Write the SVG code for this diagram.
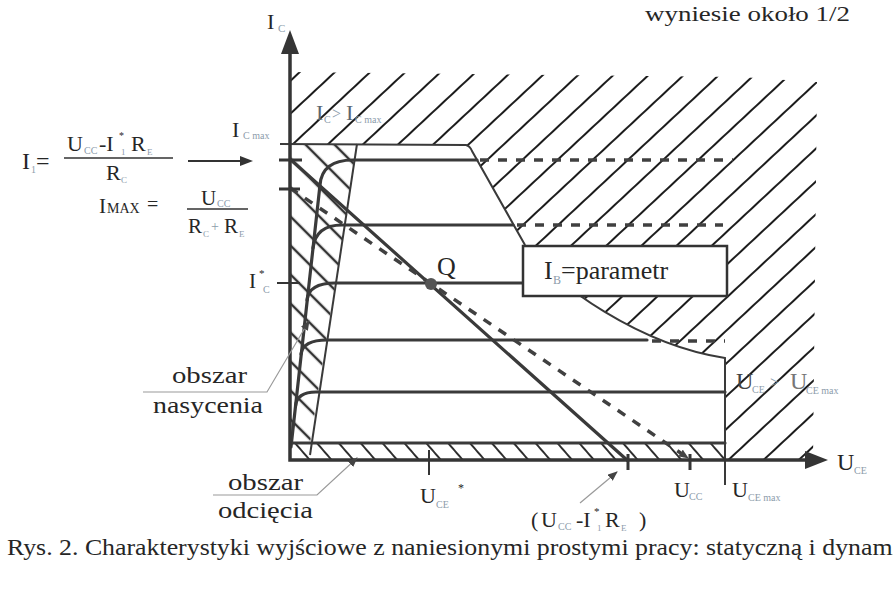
<svg xmlns="http://www.w3.org/2000/svg" width="893" height="603" viewBox="0 0 893 603">
<style>
.t{font-family:"Liberation Serif","Times New Roman",serif;fill:#262626}
.f{fill:#8c9cab}
.ax{stroke:#353535;stroke-width:3.5;fill:none}
.ch{stroke:#3a3a3a;stroke-width:3.2;fill:none;stroke-linecap:round}
.th{stroke:#3a3a3a;stroke-width:2;fill:none}
.ds{stroke:#404040;stroke-width:3.5;fill:none;stroke-dasharray:9 9}
.ld{stroke:#9a9a9a;stroke-width:1.2;fill:none}
</style>
<defs>
<pattern id="hTop" patternUnits="userSpaceOnUse" width="40" height="24" patternTransform="translate(817 82) rotate(-43)">
<line x1="0" y1="0" x2="40" y2="0" stroke="#1c1c1c" stroke-width="1.8"/>
<line x1="0" y1="24" x2="40" y2="24" stroke="#1c1c1c" stroke-width="1.8"/>
</pattern>
<pattern id="hSat" patternUnits="userSpaceOnUse" width="40" height="20.5" patternTransform="translate(290 245) rotate(45)">
<line x1="0" y1="0" x2="40" y2="0" stroke="#2e2e2e" stroke-width="2.2"/>
<line x1="0" y1="20.5" x2="40" y2="20.5" stroke="#2e2e2e" stroke-width="2.2"/>
</pattern>
<pattern id="hCut" patternUnits="userSpaceOnUse" width="40" height="16.5" patternTransform="translate(295 443) rotate(49)">
<line x1="0" y1="0" x2="40" y2="0" stroke="#2e2e2e" stroke-width="2"/>
<line x1="0" y1="16.5" x2="40" y2="16.5" stroke="#2e2e2e" stroke-width="2"/>
</pattern>
<marker id="arr" markerUnits="userSpaceOnUse" markerWidth="10" markerHeight="8" refX="9" refY="4" orient="auto">
<path d="M0,0 L10,4 L0,8 Z" fill="#444"/>
</marker>
</defs>
<rect width="893" height="603" fill="#fff"/>

<g id="top-text">
<text class="t" x="645" y="21" font-size="21" textLength="205" lengthAdjust="spacingAndGlyphs">wyniesie około 1/2</text>
</g>

<g id="hatching">
<path d="M290,72 L740,77 L817,82 L813,460 L725,460 L725,358 C640,345 555,285 525,245 L468,145 L290,144 Z" fill="url(#hTop)"/>
<path d="M290,144 L357,144 L310,443 L290,443 Z" fill="url(#hSat)"/>
<path d="M290,443 L725,443 L725,460 L290,460 Z" fill="url(#hCut)"/>
</g>

<g id="limits">
<path class="th" d="M280,144 L466,145 Q470,146 472,151 L525,245"/>
<path class="th" d="M525,245 C555,285 640,345 725,358 L725,485" stroke-width="2.5"/>
<path class="th" d="M357,144 L310,455"/>
</g>

<g id="characteristics">
<path class="ch" d="M291,447 L320,185 Q322,160 353,160 L477,160"/>
<path class="ch" d="M313,248 Q316,225 342,225 L513,225"/>
<path class="ch" d="M307,300 Q309,283 335,283 L530,283"/>
<path class="ch" d="M301,354 Q303,340 327,340 L647,340"/>
<path class="ch" d="M295.5,406 Q297,392 316,392 L725,392"/>
<path class="ch" d="M291,443 L725,443"/>
<path class="ds" d="M480,160 L733,160"/>
<path class="ds" d="M517,225 L723,225"/>
<path class="ds" d="M652,341 L725,341"/>
</g>

<g id="load-lines">
<path class="ch" d="M291,160 L627,460"/>
<path class="ds" d="M290,188 L688,458" marker-end="url(#arr)"/>
<circle cx="431" cy="284" r="6" fill="#555"/>
</g>

<g id="box">
<rect x="523" y="246" width="204" height="50" fill="#fff" stroke="#333" stroke-width="2.5"/>
<text class="t" x="544" y="279" font-size="26">I</text>
<text class="t f" x="553" y="284" font-size="12">B</text>
<text class="t" x="561" y="279" font-size="26">=parametr</text>
</g>

<g id="axes">
<path class="ax" d="M290,52 L290,460 L808,460"/>
<path d="M290,30 L281,54 L299,54 Z" fill="#353535"/>
<path d="M828,460 L805,451 L805,469 Z" fill="#353535"/>
<path d="M279,160 L302,160 M279,189 L300,189" stroke="#353535" stroke-width="3.2"/>
<path d="M277,283 L300,283" stroke="#353535" stroke-width="2"/>
<path d="M429,450 L429,475" stroke="#353535" stroke-width="2"/>
<path d="M628,454 L628,470 M690,454 L690,470" stroke="#353535" stroke-width="3"/>
</g>

<g id="connectors">
<path d="M188,161 L242,161" stroke="#333" stroke-width="2"/>
<path d="M253,161 L240,156 L240,166 Z" fill="#333"/>
<polyline class="ld" points="143,392 267,392 309,321" marker-end="url(#arr)"/>
<polyline class="ld" points="213,495 317,495 357,458" marker-end="url(#arr)"/>
<polyline class="ld" points="580,503 617,472" marker-end="url(#arr)"/>
<path d="M64,158 L173,158 M187,209 L248,209" stroke="#333" stroke-width="1.6"/>
</g>

<g id="labels">
<text class="t" x="267" y="29" font-size="22">I</text>
<text class="t f" x="278" y="32" font-size="11">C</text>

<text class="t" x="232" y="137" font-size="22">I</text>
<text class="t f" x="243" y="139" font-size="10">C max</text>

<text class="t" x="316" y="120" font-size="22" style="fill:#5a6570">I</text>
<text class="t f" x="324" y="123" font-size="10">C</text>
<text class="t f" x="332" y="119" font-size="16">&gt;</text>
<text class="t" x="346" y="120" font-size="22" style="fill:#5a6570">I</text>
<text class="t f" x="355" y="123" font-size="10">C max</text>

<text class="t" x="22" y="169" font-size="24">I</text>
<text class="t f" x="31" y="173" font-size="10">1</text>
<text class="t" x="36" y="169" font-size="24">=</text>
<text class="t" x="67" y="151" font-size="22">U</text>
<text class="t f" x="84" y="154" font-size="10">CC</text>
<text class="t" x="99" y="151" font-size="22">-I</text>
<text class="t" x="119" y="139" font-size="10">*</text>
<text class="t f" x="121" y="155" font-size="9">1</text>
<text class="t" x="131" y="151" font-size="22">R</text>
<text class="t f" x="147" y="155" font-size="9">E</text>
<text class="t" x="106" y="180" font-size="22">R</text>
<text class="t f" x="121" y="183" font-size="9">C</text>

<text class="t" x="99" y="213" font-size="21">I</text>
<text class="t" x="107" y="213" font-size="14">MAX</text>
<text class="t" x="147" y="211" font-size="20">=</text>
<text class="t" x="201" y="205" font-size="21">U</text>
<text class="t f" x="217" y="207" font-size="10">CC</text>
<text class="t" x="188" y="233" font-size="21">R</text>
<text class="t f" x="203" y="237" font-size="9">C</text>
<text class="t f" x="211" y="231" font-size="14">+</text>
<text class="t" x="224" y="233" font-size="21">R</text>
<text class="t f" x="239" y="237" font-size="9">E</text>

<text class="t" x="249" y="288" font-size="21">I</text>
<text class="t" x="259" y="277" font-size="11">*</text>
<text class="t f" x="263" y="293" font-size="10">C</text>

<text class="t" x="437" y="275" font-size="26">Q</text>

<text class="t" x="736" y="389" font-size="24" style="fill:#444">U</text>
<text class="t f" x="752" y="393" font-size="10">CE</text>
<text class="t f" x="770" y="388" font-size="16">&gt;</text>
<text class="t" x="790" y="389" font-size="24" style="fill:#777">U</text>
<text class="t f" x="806" y="394" font-size="10">CE max</text>

<text class="t" x="837" y="470" font-size="24">U</text>
<text class="t f" x="854" y="474" font-size="10">CE</text>
<text class="t" x="674" y="497" font-size="22">U</text>
<text class="t f" x="689" y="500" font-size="10">CC</text>
<text class="t" x="732" y="497" font-size="22">U</text>
<text class="t f" x="748" y="501" font-size="10">CE max</text>
<text class="t" x="420" y="503" font-size="22">U</text>
<text class="t f" x="436" y="508" font-size="10">CE</text>
<text class="t" x="458" y="492" font-size="12">*</text>

<text class="t" x="531" y="527" font-size="22">(</text>
<text class="t" x="541" y="527" font-size="22">U</text>
<text class="t f" x="558" y="530" font-size="10">CC</text>
<text class="t" x="576" y="527" font-size="22">-I</text>
<text class="t" x="594" y="515" font-size="11">*</text>
<text class="t f" x="597" y="531" font-size="9">1</text>
<text class="t" x="605" y="527" font-size="22">R</text>
<text class="t f" x="621" y="531" font-size="9">E</text>
<text class="t" x="639" y="527" font-size="22">)</text>

<text class="t" x="172" y="383" font-size="24" textLength="75" lengthAdjust="spacingAndGlyphs">obszar</text>
<text class="t" x="153" y="413" font-size="24" textLength="110" lengthAdjust="spacingAndGlyphs">nasycenia</text>
<text class="t" x="228" y="490" font-size="24" textLength="75" lengthAdjust="spacingAndGlyphs">obszar</text>
<text class="t" x="218" y="518" font-size="24" textLength="95" lengthAdjust="spacingAndGlyphs">odcięcia</text>
</g>

<g id="caption">
<text class="t" x="7" y="555" font-size="24" textLength="940" lengthAdjust="spacingAndGlyphs">Rys. 2. Charakterystyki wyjściowe z naniesionymi prostymi pracy: statyczną i dynamiczną</text>
</g>
</svg>
